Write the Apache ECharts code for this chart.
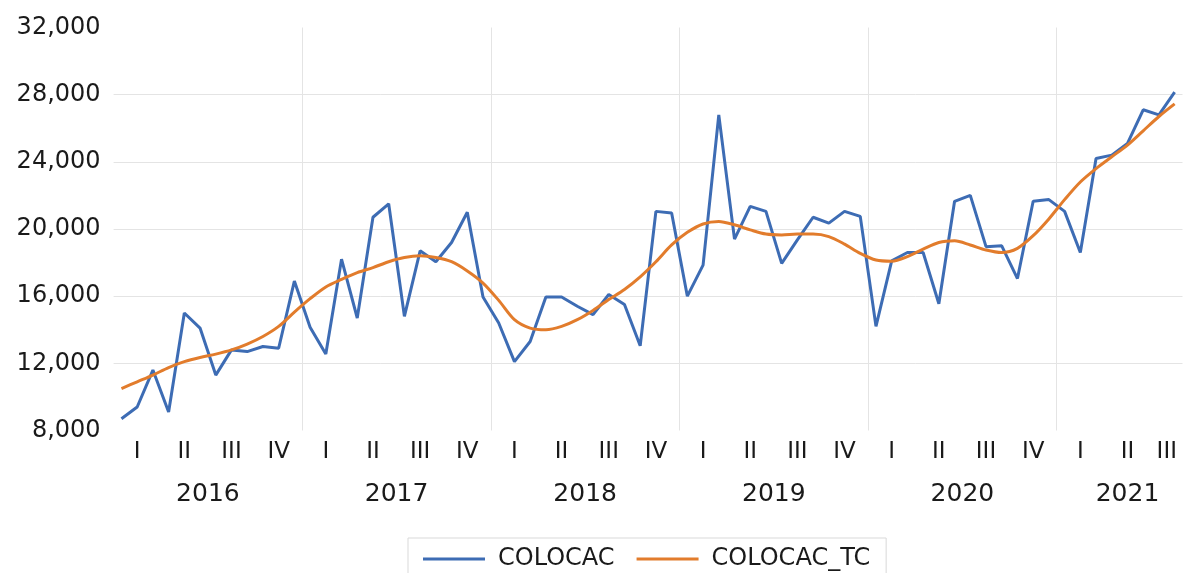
<!DOCTYPE html>
<html>
<head>
<meta charset="utf-8">
<script src="https://cdn.jsdelivr.net/npm/echarts@6/dist/echarts.min.js"></script>
<style>
html,body{margin:0;padding:0;background:#fff;}
#chart{width:1190px;height:573px;}
</style>
</head>
<body>
<div id="chart"></div>
<script>
// Months Jan 2016 .. Aug 2021
const years = ['2016','2017','2018','2019','2020','2021'];
const months = [];
for (let y = 0; y < years.length; y++) {
  const n = (years[y] === '2021') ? 8 : 12;
  for (let m = 1; m <= n; m++) months.push(years[y] + '-' + (m < 10 ? '0' + m : m));
}

const colocac = [
  8700, 9400, 11600, 9100, 15000, 14100, 11300, 12800, 12700, 13000, 12900, 16900,
  14150, 12550, 18200, 14700, 20700, 21500, 14800, 18700, 18050, 19200, 21000, 15950,
  14400, 12100, 13300, 15950, 15950, 15400, 14900, 16100, 15500, 13050, 21050, 20950,
  16000, 17850, 26800, 19400, 21350, 21050, 17950, 19350, 20700, 20350, 21050, 20750,
  14200, 18100, 18600, 18600, 15550, 21650, 22000, 18950, 19000, 17050, 21650, 21750,
  21050, 18600, 24200, 24400, 25100, 27100, 26800, 28150
];

const colocacTC = [
  10500, 10900, 11300, 11750, 12100, 12350, 12550, 12800, 13150, 13600, 14200, 15050,
  15850, 16550, 17000, 17400, 17700, 18050, 18300, 18400, 18300, 18050, 17500, 16780,
  15750, 14600, 14100, 14000, 14200, 14600, 15150, 15800, 16400, 17150, 18050, 19050,
  19800, 20300, 20450, 20250, 19950, 19700, 19650, 19700, 19700, 19550, 19100, 18550,
  18150, 18080, 18350, 18800, 19200, 19300, 19050, 18750, 18600, 18850, 19600, 20600,
  21750, 22800, 23600, 24300, 25000, 25850, 26700, 27450
];

const quarterLabels = ['I','II','III','IV'];
const yearLabels = years;

// label positions on a 0..N month scale (layout only)
const N = months.length;
const quarterPos = [], quarterText = [];
for (let q = 0; q * 3 < N; q++) {
  const s = q * 3, e = Math.min(N, s + 3);
  quarterPos.push((s + e) / 2);
  quarterText.push(quarterLabels[q % 4]);
}
const yearPos = [6, 18, 30, 42, 54, 64.5];
const yearBreaks = [12, 24, 36, 48, 60];

const font = '"DejaVu Sans", Verdana, sans-serif';
const textColor = '#1a1a1a';
const gridColor = '#e4e4e4';

const chart = echarts.init(document.getElementById('chart'), null, {renderer: 'canvas'});
chart.setOption({
  animation: false,
  backgroundColor: '#ffffff',
  grid: {left: 113.6, right: 7.5, top: 27.5, bottom: 142.5, containLabel: false},
  legend: {
    left: 408, top: 538,
    data: ['COLOCAC', 'COLOCAC_TC'],
    icon: 'rect', itemWidth: 62, itemHeight: 3, itemGap: 22,
    borderColor: '#d9d9d9', borderWidth: 1, padding: [9, 16, 14, 15],
    textStyle: {fontFamily: font, fontSize: 24, color: textColor, padding: [0, 0, 0, 8]}
  },
  xAxis: [
    {
      type: 'category', data: months, boundaryGap: true,
      axisLine: {show: false}, axisTick: {show: false}, axisLabel: {show: false},
      splitLine: {show: false}
    },
    {
      type: 'value', min: 0, max: N, position: 'bottom',
      axisLine: {show: false},
      axisTick: {show: false, customValues: yearBreaks},
      splitLine: {show: true, showMinLine: true, showMaxLine: true,
                  lineStyle: {color: gridColor, width: 1}},
      axisLabel: {
        customValues: quarterPos, margin: 10,
        fontFamily: font, fontSize: 23, color: textColor, lineHeight: 23,
        formatter: function (v) { const i = quarterPos.indexOf(v); return i >= 0 ? quarterText[i] : ''; }
      }
    },
    {
      type: 'value', min: 0, max: N, position: 'bottom',
      axisLine: {show: false}, axisTick: {show: false}, splitLine: {show: false},
      axisLabel: {
        customValues: yearPos, margin: 51,
        fontFamily: font, fontSize: 25, color: textColor, lineHeight: 25,
        formatter: function (v) { const i = yearPos.indexOf(v); return i >= 0 ? yearLabels[i] : ''; }
      }
    }
  ],
  yAxis: {
    type: 'value', min: 8000, max: 32000, interval: 4000,
    axisLine: {show: false}, axisTick: {show: false},
    splitLine: {show: true, showMinLine: false, showMaxLine: false, lineStyle: {color: gridColor, width: 1}},
    axisLabel: {
      margin: 13, fontFamily: font, fontSize: 24, color: textColor,
      formatter: function (v) { return v.toLocaleString('en-US'); }
    }
  },
  series: [
    {
      name: 'COLOCAC', type: 'line', xAxisIndex: 0, data: colocac,
      showSymbol: false, symbol: 'none',
      lineStyle: {color: '#3d6cb4', width: 3}, itemStyle: {color: '#3d6cb4'}
    },
    {
      name: 'COLOCAC_TC', type: 'line', xAxisIndex: 0, data: colocacTC,
      showSymbol: false, symbol: 'none', smooth: 0.3,
      lineStyle: {color: '#e27c2c', width: 3}, itemStyle: {color: '#e27c2c'}
    }
  ]
});
</script>
</body>
</html>
